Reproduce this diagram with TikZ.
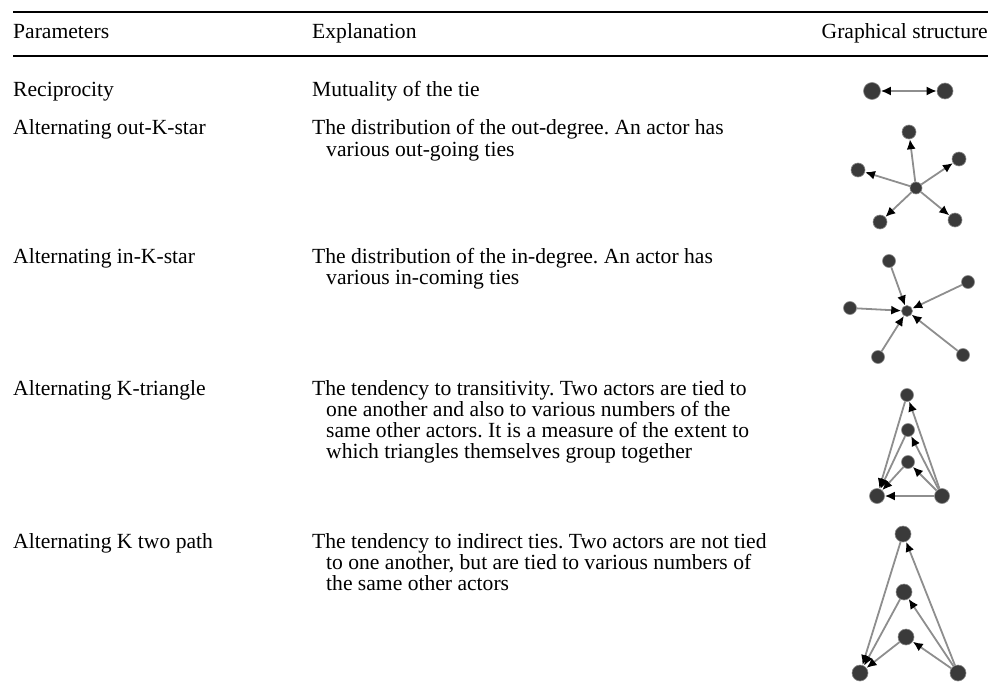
\documentclass[tikz,border=0pt]{standalone}
\usepackage{fontspec}
\setmainfont{Liberation Serif}
\usetikzlibrary{arrows.meta,positioning}
\definecolor{actorgray}{HTML}{3A3A3A}
\definecolor{tiegray}{HTML}{8E8E8E}

\begin{document}
\frenchspacing
\begin{tikzpicture}[x=1pt,y=-1pt,
	cell/.style={inner sep=0pt,align=left,anchor=base west,font=\fontsize{21.6}{21}\selectfont},
	actor/.style={circle,fill=actorgray,draw=actorgray!60,line width=.6pt,inner sep=0pt,minimum size=#1},
	actor/.default=12pt,
	tie/.style={draw=tiegray,line width=1.8pt,-{Latex[length=10pt,width=9pt,color=black]}},
	both/.style={draw=tiegray,line width=1.8pt,{Latex[length=10pt,width=9pt,color=black]}-{Latex[length=10pt,width=9pt,color=black]}}]
	\useasboundingbox (0,0) rectangle (1003,690);

	% rules
	\draw[line width=2pt] (13,12) -- (988,12);
	\draw[line width=2pt] (13,56) -- (988,56);

	% header
	\node[cell] (hpar) at (13,39) {Parameters};
	\node[cell] (hexp) at (312,39) {Explanation};
	\node[cell,anchor=base east] (hgra) at (988,39) {Graphical structure};

	% parameters and explanations (base = last line)
	\node[cell] (p1) at (13,97) {Reciprocity};
	\node[cell] (e1) at (312,97) {Mutuality of the tie};
	\node[cell] (p2) at (13,135) {Alternating out-K-star};
	\node[cell] (e2) at (312,156) {The distribution of the out-degree. An actor has\\\hspace*{14pt}various out-going ties};
	\node[cell] (p3) at (13,263) {Alternating in-K-star};
	\node[cell] (e3) at (312,284) {The distribution of the in-degree. An actor has\\\hspace*{14pt}various in-coming ties};
	\node[cell] (p4) at (13,395) {Alternating K-triangle};
	\node[cell] (e4) at (312,458) {The tendency to transitivity. Two actors are tied to\\\hspace*{14pt}one another and also to various numbers of the\\\hspace*{14pt}same other actors. It is a measure of the extent to\\\hspace*{14pt}which triangles themselves group together};
	\node[cell] (p5) at (13,548) {Alternating K two path};
	\node[cell] (e5) at (312,590) {The tendency to indirect ties. Two actors are not tied\\\hspace*{14pt}to one another, but are tied to various numbers of\\\hspace*{14pt}the same other actors};

	% reciprocity
	\node[actor=17pt] (ra) at (872,91) {};
	\node[actor=16pt] (rb) at (945,91) {};
	\draw[both] (ra) -- (rb);

	% out-star
	\node[actor] (oc) at (916,188) {};
	\foreach \n/\x/\y in {o1/909/132,o2/959/159,o3/858/170,o4/880/222,o5/955/220} {
		\node[actor=14pt] (\n) at (\x,\y) {};
		\draw[tie] (oc) -- (\n);
	}

	% in-star
	\node[actor=11pt] (ic) at (907,311) {};
	\foreach \n/\x/\y in {i1/889/261,i2/968/282,i3/850/308,i4/878/357,i5/963/355} {
		\node[actor=13pt] (\n) at (\x,\y) {};
		\draw[tie] (\n) -- (ic);
	}

	% K-triangle
	\node[actor=13pt] (ta) at (907,395) {};
	\node[actor=13pt] (tb) at (908,430) {};
	\node[actor=13pt] (tc) at (908,462) {};
	\node[actor=15pt] (tl) at (877,496) {};
	\node[actor=15pt] (tr) at (942,496) {};
	\foreach \n in {ta,tb,tc} {
		\draw[tie] (tr) -- (\n);
		\draw[tie] (\n) -- (tl);
	}
	\draw[tie] (tr) -- (tl);

	% K two path
	\node[actor=16pt] (ka) at (903,534) {};
	\node[actor=16pt] (kb) at (904,592) {};
	\node[actor=16pt] (kc) at (906,637) {};
	\node[actor=16pt] (kl) at (860,673) {};
	\node[actor=16pt] (kr) at (958,673) {};
	\foreach \n in {ka,kb,kc} {
		\draw[tie] (kr) -- (\n);
		\draw[tie] (\n) -- (kl);
	}
\end{tikzpicture}
\end{document}
